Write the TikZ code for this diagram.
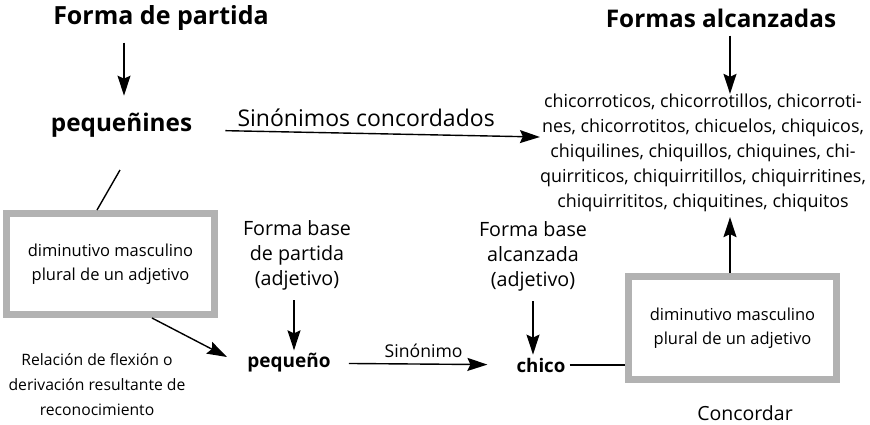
\documentclass[tikz,border=0pt]{standalone}
\usepackage{fontspec}
\setmainfont{Open Sans}
\usepackage{xcolor}
\usepackage{tikz}
\usetikzlibrary{positioning,arrows.meta}

\begin{document}
\begin{tikzpicture}[x=1pt, y=-1pt,
  flecha/.style={-{Stealth[length=20pt, width=13pt, inset=3pt]}, line width=1.4pt},
  linea/.style={line width=1.4pt},
  caja/.style={draw=gray!60, line width=7pt, minimum width=208pt, minimum height=101pt, align=center, inner sep=0pt, font=\fontsize{16.5}{24}\selectfont},
  titulo/.style={inner sep=0pt, font=\fontsize{25}{28}\selectfont\bfseries},
  texto/.style={inner sep=0pt, align=center, font=\fontsize{19.7}{25}\selectfont}]
\useasboundingbox (0,0) rectangle (870,424);
\node[titulo] (a) at (161,18) {Forma de partida};
\node[titulo, font=\fontsize{24.3}{28}\selectfont\bfseries] (b) at (121.5,125) {pequeñines};
\node[titulo, font=\fontsize{24.3}{28}\selectfont\bfseries] (c) at (721,18) {Formas alcanzadas};
\node[texto, font=\fontsize{17.9}{25}\selectfont] (d) at (703,153) {chicorroticos, chicorrotillos, chicorroti-\\nes, chicorrotitos, chicuelos, chiquicos,\\chiquilines, chiquillos, chiquines, chi-\\quirriticos, chiquirritillos, chiquirritines,\\chiquirrititos, chiquitines, chiquitos};
\node[caja] (e) at (110.5,264) {diminutivo masculino\\plural de un adjetivo};
\node[caja, minimum height=103pt] (f) at (732.5,328) {diminutivo masculino\\plural de un adjetivo};
\node[titulo, font=\fontsize{19}{22}\selectfont\bfseries] (g) at (289,363) {pequeño};
\node[titulo, font=\fontsize{18.7}{20}\selectfont\bfseries] (h) at (541,365) {chico};
\node[texto] (i) at (297,255) {Forma base\\de partida\\(adjetivo)};
\node[texto] (j) at (533,256) {Forma base\\alcanzada\\(adjetivo)};
\node[texto, font=\fontsize{15.7}{25}\selectfont] (k) at (97,385) {Relación de flexión o\\derivación resultante de\\reconocimiento};
\node[texto, font=\fontsize{19.5}{25}\selectfont] (l) at (745,413) {Concordar};
% flechas de arriba
\draw[flecha, shorten <=12pt, shorten >=17pt] ([xshift=-37pt]a.south) -- ([xshift=2.5pt]b.north);
\draw[flecha, shorten <=8pt] ([xshift=9pt]c.south) -- ([xshift=27pt]d.north);
\draw[flecha, shorten <=33pt] ([yshift=-5pt]b.east) -- node[texto, font=\fontsize{23}{26}\selectfont, pos=0.5, above=6pt] {Sinónimos concordados} ([yshift=16pt]d.west);
\draw[linea] ([shift={(-1.5pt,-45pt)}]b.center) -- ([xshift=-13.5pt]e.north);
% flechas de abajo
\draw[flecha] ([xshift=41.5pt]e.south) -- ([shift={(-62pt,6pt)}]g.center);
\draw[flecha, shorten <=10pt, shorten >=3pt] ([xshift=-3pt]i.south) -- ([xshift=5pt]g.north);
\draw[flecha, shorten <=10pt, shorten >=3pt] ([xshift=0pt]j.south) -- ([xshift=-8pt]h.north);
\draw[flecha, shorten <=18pt, shorten >=29pt] (g) -- node[texto, font=\fontsize{17.6}{22}\selectfont, above=6pt] {Sinónimo} (h);
\draw[linea, shorten <=4pt] (h.east) -- (h.east -| f.west);
\draw[flecha, shorten >=5pt] ([xshift=-2.5pt]f.north) -- ([xshift=-2.5pt]f.north |- d.south);
\end{tikzpicture}
\end{document}
